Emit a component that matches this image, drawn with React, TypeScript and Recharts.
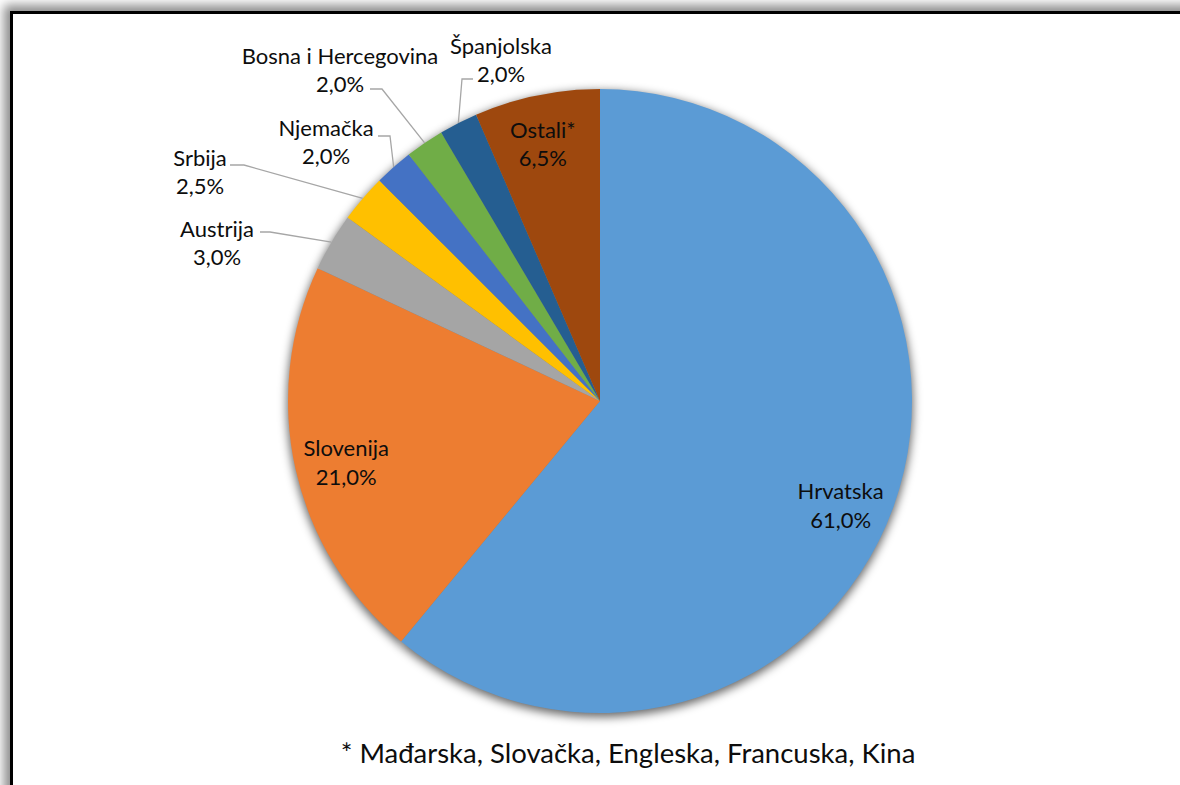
import { PieChart, Pie, Cell } from 'recharts';

const countries = [
  'Hrvatska',
  'Slovenija',
  'Austrija',
  'Srbija',
  'Njemačka',
  'Bosna i Hercegovina',
  'Španjolska',
  'Ostali*',
];
const shares = [61.0, 21.0, 3.0, 2.5, 2.0, 2.0, 2.0, 6.5];
const sliceColors = ['#5B9BD5', '#ED7D31', '#A5A5A5', '#FFC000', '#4472C4', '#70AD47', '#255E91', '#9E480E'];
const footnote = '* Mađarska, Slovačka, Engleska, Francuska, Kina';

const data = countries.map((name, i) => ({ name, value: shares[i] }));

// outside labels: text block centre + leader attach/elbow, relative to pie centre
const outsideLabels: Record<string, { tx: number; ty: number; ax: number; ay: number; ex: number; ey: number }> = {
  Austrija: { tx: -383, ty: -173, ax: -340, ay: -169, ex: -330, ey: -169 },
  Srbija: { tx: -400, ty: -244, ax: -370, ay: -236, ex: -356, ey: -236 },
  'Njemačka': { tx: -274, ty: -274, ax: -222, ay: -265, ex: -210, ey: -265 },
  'Bosna i Hercegovina': { tx: -260, ty: -346, ax: -230, ay: -312, ex: -218, ey: -312 },
  'Španjolska': { tx: -99, ty: -356, ax: -127, ay: -322, ex: -138, ey: -322 },
};
// small nudges for labels placed inside their slice
const insideNudge: Record<string, { dx: number; dy: number }> = {
  Hrvatska: { dx: -6, dy: 15 },
  Slovenija: { dx: 2, dy: 4 },
  'Ostali*': { dx: -4, dy: -1 },
};

const RAD = Math.PI / 180;
const FONT = 'Lato, "Open Sans", sans-serif';
const LINE_GAP = 28.5;

const fmt = (v: number) => v.toFixed(1).replace('.', ',') + '%';

function SliceLabel(props: any) {
  const { cx, cy, midAngle, outerRadius, index } = props;
  const name = countries[index];
  const pct = fmt(shares[index]);
  const cos = Math.cos(-midAngle * RAD);
  const sin = Math.sin(-midAngle * RAD);
  const lay = outsideLabels[name];
  const textStyle = { fontFamily: FONT, fontSize: 22, fill: '#0d0d0d' };

  if (!lay) {
    const r = outerRadius * 0.84;
    const n = insideNudge[name] ?? { dx: 0, dy: 0 };
    const x = cx + r * cos + n.dx;
    const y = cy + r * sin + n.dy;
    return (
      <g>
        <text x={x} y={y - LINE_GAP / 2} textAnchor="middle" dominantBaseline="central" style={textStyle}>
          {name}
        </text>
        <text x={x} y={y + LINE_GAP / 2} textAnchor="middle" dominantBaseline="central" style={textStyle}>
          {pct}
        </text>
      </g>
    );
  }

  const edgeX = cx + outerRadius * cos;
  const edgeY = cy + outerRadius * sin;
  const pts = `${cx + lay.ax},${cy + lay.ay} ${cx + lay.ex},${cy + lay.ey} ${edgeX},${edgeY}`;
  return (
    <g>
      <polyline points={pts} fill="none" stroke="#A6A6A6" strokeWidth={1.3} />
      <text x={cx + lay.tx} y={cy + lay.ty} textAnchor="middle" dominantBaseline="central" style={textStyle}>
        {name}
      </text>
      <text x={cx + lay.tx} y={cy + lay.ty + LINE_GAP} textAnchor="middle" dominantBaseline="central" style={textStyle}>
        {pct}
      </text>
    </g>
  );
}

export default function App() {
  return (
    <div
      style={{
        position: 'absolute',
        left: 0,
        top: 0,
        width: 1180,
        height: 785,
        background: '#fff',
        overflow: 'hidden',
      }}
    >
      <svg width={0} height={0} style={{ position: 'absolute' }}>
        <defs>
          <filter id="pieShadow" x="-20%" y="-20%" width="140%" height="140%">
            <feGaussianBlur stdDeviation="5" />
          </filter>
        </defs>
      </svg>
      <div
        style={{
          position: 'absolute',
          left: 10,
          top: 11,
          width: 1220,
          height: 820,
          border: '3px solid #000',
          boxShadow: '-3px -3px 10px 3px rgba(0,0,0,0.45)',
          background: '#fff',
        }}
      />
      <div style={{ position: 'absolute', left: 0, top: 0 }}>
        <PieChart width={1180} height={785} margin={{ top: 0, right: 0, bottom: 0, left: 0 }}>
          <Pie
            data={data}
            dataKey="value"
            cx={600}
            cy={404}
            outerRadius={313}
            startAngle={90}
            endAngle={-270}
            stroke="none"
            isAnimationActive={false}
            label={false}
            labelLine={false}
          >
            {data.map((d) => (
              <Cell key={d.name} fill="rgba(0,0,0,0.6)" filter="url(#pieShadow)" />
            ))}
          </Pie>
          <Pie
            data={data}
            dataKey="value"
            cx={600}
            cy={401}
            outerRadius={312}
            startAngle={90}
            endAngle={-270}
            stroke="none"
            isAnimationActive={false}
            label={SliceLabel}
            labelLine={false}
          >
            {data.map((d, i) => (
              <Cell key={d.name} fill={sliceColors[i]} />
            ))}
          </Pie>
        </PieChart>
      </div>
      <div
        style={{
          position: 'absolute',
          left: 0,
          width: 1256,
          top: 735,
          textAlign: 'center',
          fontFamily: FONT,
          fontSize: 27.5,
          color: '#0d0d0d',
          lineHeight: '36px',
        }}
      >
        {footnote}
      </div>
    </div>
  );
}
